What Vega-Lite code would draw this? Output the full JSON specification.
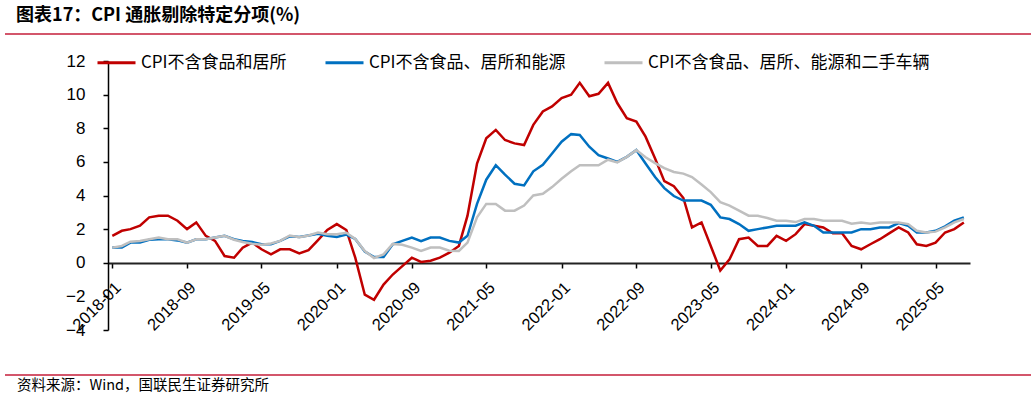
{
  "$schema": "https://vega.github.io/schema/vega-lite/v6.json",
  "width": 862,
  "height": 269,
  "autosize": {"type": "none"},
  "padding": {"left": 108, "top": 61, "right": 61, "bottom": 69},
  "background": "white",
  "config": {"view": {"stroke": null}, "axis": {"grid": false}},
  "resolve": {"axis": {"x": "independent", "y": "independent"}},
  "layer": [
    {
      "data": {"values": [
        {"date":"2018-01-01","CPI不含食品和居所":1.6,"CPI不含食品、居所和能源":0.9,"CPI不含食品、居所、能源和二手车辆":0.9},
        {"date":"2018-02-01","CPI不含食品和居所":1.9,"CPI不含食品、居所和能源":0.9,"CPI不含食品、居所、能源和二手车辆":1.0},
        {"date":"2018-03-01","CPI不含食品和居所":2.0,"CPI不含食品、居所和能源":1.2,"CPI不含食品、居所、能源和二手车辆":1.25},
        {"date":"2018-04-01","CPI不含食品和居所":2.2,"CPI不含食品、居所和能源":1.2,"CPI不含食品、居所、能源和二手车辆":1.3},
        {"date":"2018-05-01","CPI不含食品和居所":2.7,"CPI不含食品、居所和能源":1.37,"CPI不含食品、居所、能源和二手车辆":1.4},
        {"date":"2018-06-01","CPI不含食品和居所":2.8,"CPI不含食品、居所和能源":1.4,"CPI不含食品、居所、能源和二手车辆":1.5},
        {"date":"2018-07-01","CPI不含食品和居所":2.8,"CPI不含食品、居所和能源":1.4,"CPI不含食品、居所、能源和二手车辆":1.4},
        {"date":"2018-08-01","CPI不含食品和居所":2.5,"CPI不含食品、居所和能源":1.33,"CPI不含食品、居所、能源和二手车辆":1.4},
        {"date":"2018-09-01","CPI不含食品和居所":2.0,"CPI不含食品、居所和能源":1.2,"CPI不含食品、居所、能源和二手车辆":1.2},
        {"date":"2018-10-01","CPI不含食品和居所":2.4,"CPI不含食品、居所和能源":1.4,"CPI不含食品、居所、能源和二手车辆":1.4},
        {"date":"2018-11-01","CPI不含食品和居所":1.6,"CPI不含食品、居所和能源":1.4,"CPI不含食品、居所、能源和二手车辆":1.4},
        {"date":"2018-12-01","CPI不含食品和居所":1.3,"CPI不含食品、居所和能源":1.5,"CPI不含食品、居所、能源和二手车辆":1.5},
        {"date":"2019-01-01","CPI不含食品和居所":0.4,"CPI不含食品、居所和能源":1.6,"CPI不含食品、居所、能源和二手车辆":1.6},
        {"date":"2019-02-01","CPI不含食品和居所":0.3,"CPI不含食品、居所和能源":1.4,"CPI不含食品、居所、能源和二手车辆":1.37},
        {"date":"2019-03-01","CPI不含食品和居所":0.9,"CPI不含食品、居所和能源":1.3,"CPI不含食品、居所、能源和二手车辆":1.23},
        {"date":"2019-04-01","CPI不含食品和居所":1.2,"CPI不含食品、居所和能源":1.23,"CPI不含食品、居所、能源和二手车辆":1.13},
        {"date":"2019-05-01","CPI不含食品和居所":0.8,"CPI不含食品、居所和能源":1.1,"CPI不含食品、居所、能源和二手车辆":1.07},
        {"date":"2019-06-01","CPI不含食品和居所":0.5,"CPI不含食品、居所和能源":1.1,"CPI不含食品、居所、能源和二手车辆":1.15},
        {"date":"2019-07-01","CPI不含食品和居所":0.8,"CPI不含食品、居所和能源":1.3,"CPI不含食品、居所、能源和二手车辆":1.3},
        {"date":"2019-08-01","CPI不含食品和居所":0.8,"CPI不含食品、居所和能源":1.57,"CPI不含食品、居所、能源和二手车辆":1.62},
        {"date":"2019-09-01","CPI不含食品和居所":0.55,"CPI不含食品、居所和能源":1.53,"CPI不含食品、居所、能源和二手车辆":1.52},
        {"date":"2019-10-01","CPI不含食品和居所":0.75,"CPI不含食品、居所和能源":1.62,"CPI不含食品、居所、能源和二手车辆":1.62},
        {"date":"2019-11-01","CPI不含食品和居所":1.35,"CPI不含食品、居所和能源":1.72,"CPI不含食品、居所、能源和二手车辆":1.8},
        {"date":"2019-12-01","CPI不含食品和居所":1.95,"CPI不含食品、居所和能源":1.6,"CPI不含食品、居所、能源和二手车辆":1.7},
        {"date":"2020-01-01","CPI不含食品和居所":2.3,"CPI不含食品、居所和能源":1.53,"CPI不含食品、居所、能源和二手车辆":1.7},
        {"date":"2020-02-01","CPI不含食品和居所":1.95,"CPI不含食品、居所和能源":1.68,"CPI不含食品、居所、能源和二手车辆":1.78},
        {"date":"2020-03-01","CPI不含食品和居所":0.3,"CPI不含食品、居所和能源":1.42,"CPI不含食品、居所、能源和二手车辆":1.42},
        {"date":"2020-04-01","CPI不含食品和居所":-1.9,"CPI不含食品、居所和能源":0.67,"CPI不含食品、居所、能源和二手车辆":0.7},
        {"date":"2020-05-01","CPI不含食品和居所":-2.2,"CPI不含食品、居所和能源":0.34,"CPI不含食品、居所、能源和二手车辆":0.28},
        {"date":"2020-06-01","CPI不含食品和居所":-1.3,"CPI不含食品、居所和能源":0.34,"CPI不含食品、居所、能源和二手车辆":0.5},
        {"date":"2020-07-01","CPI不含食品和居所":-0.7,"CPI不含食品、居所和能源":1.1,"CPI不含食品、居所、能源和二手车辆":1.12},
        {"date":"2020-08-01","CPI不含食品和居所":-0.2,"CPI不含食品、居所和能源":1.3,"CPI不含食品、居所、能源和二手车辆":1.07},
        {"date":"2020-09-01","CPI不含食品和居所":0.3,"CPI不含食品、居所和能源":1.5,"CPI不含食品、居所、能源和二手车辆":0.9},
        {"date":"2020-10-01","CPI不含食品和居所":0.05,"CPI不含食品、居所和能源":1.28,"CPI不含食品、居所、能源和二手车辆":0.7},
        {"date":"2020-11-01","CPI不含食品和居所":0.12,"CPI不含食品、居所和能源":1.5,"CPI不含食品、居所、能源和二手车辆":0.9},
        {"date":"2020-12-01","CPI不含食品和居所":0.3,"CPI不含食品、居所和能源":1.5,"CPI不含食品、居所、能源和二手车辆":0.9},
        {"date":"2021-01-01","CPI不含食品和居所":0.6,"CPI不含食品、居所和能源":1.3,"CPI不含食品、居所、能源和二手车辆":0.72},
        {"date":"2021-02-01","CPI不含食品和居所":1.0,"CPI不含食品、居所和能源":1.2,"CPI不含食品、居所、能源和二手车辆":0.7},
        {"date":"2021-03-01","CPI不含食品和居所":2.8,"CPI不含食品、居所和能源":1.6,"CPI不含食品、居所、能源和二手车辆":1.2},
        {"date":"2021-04-01","CPI不含食品和居所":5.9,"CPI不含食品、居所和能源":3.5,"CPI不含食品、居所、能源和二手车辆":2.7},
        {"date":"2021-05-01","CPI不含食品和居所":7.4,"CPI不含食品、居所和能源":4.94,"CPI不含食品、居所、能源和二手车辆":3.5},
        {"date":"2021-06-01","CPI不含食品和居所":7.9,"CPI不含食品、居所和能源":5.8,"CPI不含食品、居所、能源和二手车辆":3.5},
        {"date":"2021-07-01","CPI不含食品和居所":7.3,"CPI不含食品、居所和能源":5.24,"CPI不含食品、居所、能源和二手车辆":3.1},
        {"date":"2021-08-01","CPI不含食品和居所":7.1,"CPI不含食品、居所和能源":4.7,"CPI不含食品、居所、能源和二手车辆":3.1},
        {"date":"2021-09-01","CPI不含食品和居所":7.0,"CPI不含食品、居所和能源":4.6,"CPI不含食品、居所、能源和二手车辆":3.4},
        {"date":"2021-10-01","CPI不含食品和居所":8.2,"CPI不含食品、居所和能源":5.44,"CPI不含食品、居所、能源和二手车辆":4.0},
        {"date":"2021-11-01","CPI不含食品和居所":9.0,"CPI不含食品、居所和能源":5.83,"CPI不含食品、居所、能源和二手车辆":4.1},
        {"date":"2021-12-01","CPI不含食品和居所":9.3,"CPI不含食品、居所和能源":6.5,"CPI不含食品、居所、能源和二手车辆":4.5},
        {"date":"2022-01-01","CPI不含食品和居所":9.8,"CPI不含食品、居所和能源":7.2,"CPI不含食品、居所、能源和二手车辆":5.0},
        {"date":"2022-02-01","CPI不含食品和居所":10.0,"CPI不含食品、居所和能源":7.65,"CPI不含食品、居所、能源和二手车辆":5.44},
        {"date":"2022-03-01","CPI不含食品和居所":10.7,"CPI不含食品、居所和能源":7.6,"CPI不含食品、居所、能源和二手车辆":5.8},
        {"date":"2022-04-01","CPI不含食品和居所":9.9,"CPI不含食品、居所和能源":6.9,"CPI不含食品、居所、能源和二手车辆":5.8},
        {"date":"2022-05-01","CPI不含食品和居所":10.05,"CPI不含食品、居所和能源":6.4,"CPI不含食品、居所、能源和二手车辆":5.8},
        {"date":"2022-06-01","CPI不含食品和居所":10.7,"CPI不含食品、居所和能源":6.2,"CPI不含食品、居所、能源和二手车辆":6.13},
        {"date":"2022-07-01","CPI不含食品和居所":9.5,"CPI不含食品、居所和能源":6.0,"CPI不含食品、居所、能源和二手车辆":5.97},
        {"date":"2022-08-01","CPI不含食品和居所":8.6,"CPI不含食品、居所和能源":6.3,"CPI不含食品、居所、能源和二手车辆":6.3},
        {"date":"2022-09-01","CPI不含食品和居所":8.4,"CPI不含食品、居所和能源":6.7,"CPI不含食品、居所、能源和二手车辆":6.7},
        {"date":"2022-10-01","CPI不含食品和居所":7.5,"CPI不含食品、居所和能源":5.9,"CPI不含食品、居所、能源和二手车辆":6.27},
        {"date":"2022-11-01","CPI不含食品和居所":6.2,"CPI不含食品、居所和能源":5.1,"CPI不含食品、居所、能源和二手车辆":5.93},
        {"date":"2022-12-01","CPI不含食品和居所":4.85,"CPI不含食品、居所和能源":4.44,"CPI不含食品、居所、能源和二手车辆":5.63},
        {"date":"2023-01-01","CPI不含食品和居所":4.55,"CPI不含食品、居所和能源":3.97,"CPI不含食品、居所、能源和二手车辆":5.4},
        {"date":"2023-02-01","CPI不含食品和居所":3.85,"CPI不含食品、居所和能源":3.7,"CPI不含食品、居所、能源和二手车辆":5.3},
        {"date":"2023-03-01","CPI不含食品和居所":2.1,"CPI不含食品、居所和能源":3.7,"CPI不含食品、居所、能源和二手车辆":5.1},
        {"date":"2023-04-01","CPI不含食品和居所":2.4,"CPI不含食品、居所和能源":3.7,"CPI不含食品、居所、能源和二手车辆":4.65},
        {"date":"2023-05-01","CPI不含食品和居所":1.0,"CPI不含食品、居所和能源":3.45,"CPI不含食品、居所、能源和二手车辆":4.2},
        {"date":"2023-06-01","CPI不含食品和居所":-0.46,"CPI不含食品、居所和能源":2.7,"CPI不含食品、居所、能源和二手车辆":3.6},
        {"date":"2023-07-01","CPI不含食品和居所":0.2,"CPI不含食品、居所和能源":2.6,"CPI不含食品、居所、能源和二手车辆":3.4},
        {"date":"2023-08-01","CPI不含食品和居所":1.4,"CPI不含食品、居所和能源":2.3,"CPI不含食品、居所、能源和二手车辆":3.1},
        {"date":"2023-09-01","CPI不含食品和居所":1.5,"CPI不含食品、居所和能源":1.9,"CPI不含食品、居所、能源和二手车辆":2.8},
        {"date":"2023-10-01","CPI不含食品和居所":1.0,"CPI不含食品、居所和能源":2.0,"CPI不含食品、居所、能源和二手车辆":2.8},
        {"date":"2023-11-01","CPI不含食品和居所":1.0,"CPI不含食品、居所和能源":2.1,"CPI不含食品、居所、能源和二手车辆":2.66},
        {"date":"2023-12-01","CPI不含食品和居所":1.6,"CPI不含食品、居所和能源":2.2,"CPI不含食品、居所、能源和二手车辆":2.5},
        {"date":"2024-01-01","CPI不含食品和居所":1.3,"CPI不含食品、居所和能源":2.2,"CPI不含食品、居所、能源和二手车辆":2.5},
        {"date":"2024-02-01","CPI不含食品和居所":1.7,"CPI不含食品、居所和能源":2.2,"CPI不含食品、居所、能源和二手车辆":2.42},
        {"date":"2024-03-01","CPI不含食品和居所":2.3,"CPI不含食品、居所和能源":2.4,"CPI不含食品、居所、能源和二手车辆":2.6},
        {"date":"2024-04-01","CPI不含食品和居所":2.2,"CPI不含食品、居所和能源":2.2,"CPI不含食品、居所、能源和二手车辆":2.6},
        {"date":"2024-05-01","CPI不含食品和居所":2.1,"CPI不含食品、居所和能源":1.8,"CPI不含食品、居所、能源和二手车辆":2.5},
        {"date":"2024-06-01","CPI不含食品和居所":1.75,"CPI不含食品、居所和能源":1.8,"CPI不含食品、居所、能源和二手车辆":2.5},
        {"date":"2024-07-01","CPI不含食品和居所":1.75,"CPI不含食品、居所和能源":1.8,"CPI不含食品、居所、能源和二手车辆":2.5},
        {"date":"2024-08-01","CPI不含食品和居所":1.0,"CPI不含食品、居所和能源":1.8,"CPI不含食品、居所、能源和二手车辆":2.32},
        {"date":"2024-09-01","CPI不含食品和居所":0.8,"CPI不含食品、居所和能源":2.0,"CPI不含食品、居所、能源和二手车辆":2.4},
        {"date":"2024-10-01","CPI不含食品和居所":1.1,"CPI不含食品、居所和能源":2.0,"CPI不含食品、居所、能源和二手车辆":2.32},
        {"date":"2024-11-01","CPI不含食品和居所":1.4,"CPI不含食品、居所和能源":2.1,"CPI不含食品、居所、能源和二手车辆":2.4},
        {"date":"2024-12-01","CPI不含食品和居所":1.75,"CPI不含食品、居所和能源":2.1,"CPI不含食品、居所、能源和二手车辆":2.4},
        {"date":"2025-01-01","CPI不含食品和居所":2.1,"CPI不含食品、居所和能源":2.36,"CPI不含食品、居所、能源和二手车辆":2.4},
        {"date":"2025-02-01","CPI不含食品和居所":1.8,"CPI不含食品、居所和能源":2.2,"CPI不含食品、居所、能源和二手车辆":2.3},
        {"date":"2025-03-01","CPI不含食品和居所":1.1,"CPI不含食品、居所和能源":1.8,"CPI不含食品、居所、能源和二手车辆":1.9},
        {"date":"2025-04-01","CPI不含食品和居所":1.0,"CPI不含食品、居所和能源":1.8,"CPI不含食品、居所、能源和二手车辆":1.8},
        {"date":"2025-05-01","CPI不含食品和居所":1.2,"CPI不含食品、居所和能源":1.9,"CPI不含食品、居所、能源和二手车辆":1.85},
        {"date":"2025-06-01","CPI不含食品和居所":1.8,"CPI不含食品、居所和能源":2.16,"CPI不含食品、居所、能源和二手车辆":2.1},
        {"date":"2025-07-01","CPI不含食品和居所":2.0,"CPI不含食品、居所和能源":2.5,"CPI不含食品、居所、能源和二手车辆":2.4},
        {"date":"2025-08-01","CPI不含食品和居所":2.4,"CPI不含食品、居所和能源":2.7,"CPI不含食品、居所、能源和二手车辆":2.6}
      ]},
      "transform": [{"fold": ["CPI不含食品和居所", "CPI不含食品、居所和能源", "CPI不含食品、居所、能源和二手车辆"], "as": ["series", "value"]}],
      "mark": {"type": "line", "strokeWidth": 2.5},
      "encoding": {
        "x": {
          "field": "date", "type": "temporal",
          "scale": {"type": "utc", "domain": [{"year": 2017, "month": 12, "date": 18, "utc": true}, {"year": 2025, "month": 8, "date": 21, "utc": true}]},
          "axis": {
            "title": null,
            "values": [
              {"year": 2018, "month": 1, "date": 1, "utc": true},
              {"year": 2018, "month": 9, "date": 1, "utc": true},
              {"year": 2019, "month": 5, "date": 1, "utc": true},
              {"year": 2020, "month": 1, "date": 1, "utc": true},
              {"year": 2020, "month": 9, "date": 1, "utc": true},
              {"year": 2021, "month": 5, "date": 1, "utc": true},
              {"year": 2022, "month": 1, "date": 1, "utc": true},
              {"year": 2022, "month": 9, "date": 1, "utc": true},
              {"year": 2023, "month": 5, "date": 1, "utc": true},
              {"year": 2024, "month": 1, "date": 1, "utc": true},
              {"year": 2024, "month": 9, "date": 1, "utc": true},
              {"year": 2025, "month": 5, "date": 1, "utc": true}
            ],
            "format": "%Y-%m",
            "offset": -67,
            "labelAngle": -45,
            "labelAlign": "right",
            "labelBaseline": "top",
            "labelPadding": 11,
            "labelFont": "Liberation Sans",
            "labelFontSize": 16.5,
            "labelColor": "#000000",
            "labelOverlap": false,
            "labelBound": false,
            "labelFlush": false,
            "tickSize": 5,
            "tickColor": "#000000",
            "tickWidth": 1.5,
            "domainColor": "#222222",
            "domainWidth": 2
          }
        },
        "y": {
          "field": "value", "type": "quantitative",
          "scale": {"domain": [-4, 12], "nice": false, "zero": false},
          "axis": {
            "title": null,
            "values": [-4, -2, 0, 2, 4, 6, 8, 10, 12],
            "labelOverlap": false,
            "labelBound": false,
            "labelFlush": false,
            "labelFont": "Liberation Sans",
            "labelFontSize": 17,
            "labelColor": "#000000",
            "labelPadding": 18,
            "tickSize": 5,
            "tickColor": "#000000",
            "tickWidth": 1.5,
            "domainColor": "#000000",
            "domainWidth": 1.5
          }
        },
        "color": {
          "field": "series", "type": "nominal",
          "scale": {"domain": ["CPI不含食品和居所", "CPI不含食品、居所和能源", "CPI不含食品、居所、能源和二手车辆"], "range": ["#C00000", "#0070C0", "#BFBFBF"]},
          "legend": {
            "orient": "none", "legendX": -12, "legendY": -19,
            "direction": "horizontal", "title": null,
            "symbolType": "stroke", "symbolSize": 1444, "symbolStrokeWidth": 3,
            "labelFont": "Noto Sans CJK SC", "labelFontSize": 17, "labelColor": "#000000",
            "labelOffset": 4, "columnPadding": 32, "labelLimit": 500
          }
        }
      }
    },
    {
      "data": {"values": [{}]},
      "mark": {"type": "rule", "color": "#C41E3A", "strokeWidth": 1.5},
      "encoding": {
        "x": {"datum": {"year": 2017, "month": 1, "date": 17, "utc": true}, "type": "temporal", "axis": null},
        "x2": {"datum": {"year": 2026, "month": 3, "date": 8, "utc": true}},
        "y": {"datum": 13.6, "type": "quantitative", "axis": null}
      }
    },
    {
      "data": {"values": [{}]},
      "mark": {"type": "rule", "color": "#C41E3A", "strokeWidth": 1.5},
      "encoding": {
        "x": {"datum": {"year": 2017, "month": 1, "date": 17, "utc": true}, "type": "temporal", "axis": null},
        "x2": {"datum": {"year": 2026, "month": 3, "date": 8, "utc": true}},
        "y": {"datum": -6.68, "type": "quantitative", "axis": null}
      }
    },
    {
      "data": {"values": [{}]},
      "mark": {"type": "text", "align": "left", "baseline": "middle", "font": "Noto Sans CJK SC", "fontWeight": "bold", "fontSize": 18, "color": "#000000"},
      "encoding": {
        "x": {"datum": {"year": 2017, "month": 2, "date": 22, "utc": true}, "type": "temporal", "axis": null},
        "y": {"datum": 14.68, "type": "quantitative", "axis": null},
        "text": {"value": "图表17：CPI 通胀剔除特定分项(%)"}
      }
    },
    {
      "data": {"values": [{}]},
      "mark": {"type": "text", "align": "left", "baseline": "middle", "font": "Noto Sans CJK SC", "fontSize": 14.5, "color": "#000000"},
      "encoding": {
        "x": {"datum": {"year": 2017, "month": 2, "date": 25, "utc": true}, "type": "temporal", "axis": null},
        "y": {"datum": -7.33, "type": "quantitative", "axis": null},
        "text": {"value": "资料来源：Wind，国联民生证券研究所"}
      }
    }
  ]
}
